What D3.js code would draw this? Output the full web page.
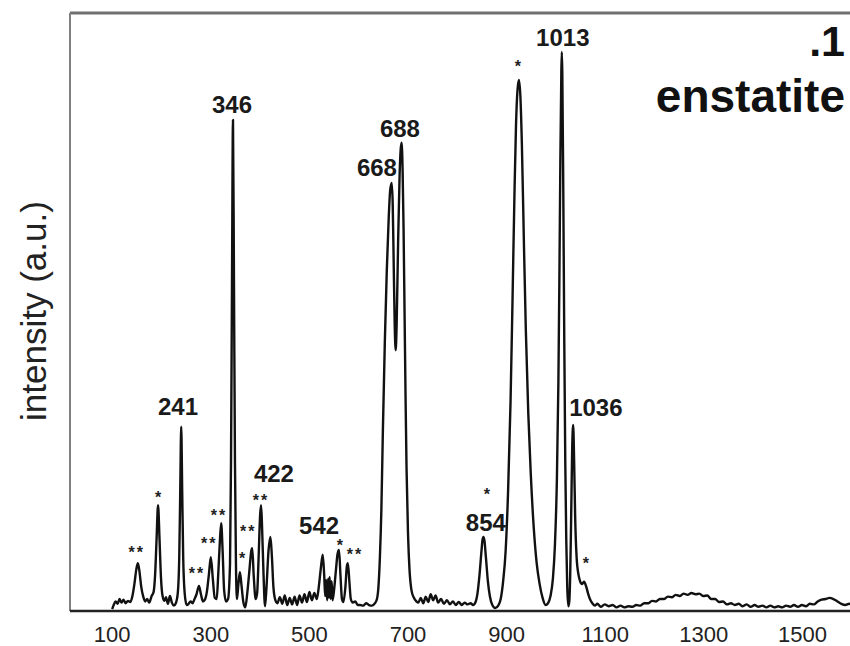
<!DOCTYPE html>
<html>
<head>
<meta charset="utf-8">
<script src="https://cdn.jsdelivr.net/npm/d3@7"></script>
<style>
  body { margin: 0; background: #ffffff; }
  svg text { font-family: "Liberation Sans", Arial, Helvetica, sans-serif; }
</style>
</head>
<body>
<svg id="chart" width="850" height="646"></svg>
<script>
// Raman spectrum of enstatite: [wavenumber (cm-1), intensity (a.u.)]
const spectrumLow = [
  [101, 0.3], [104, 1.0], [108, 1.6], [112, 1.2], [116, 2.0], [120, 1.4], [124, 1.9], [128, 1.3],
  [133, 1.7], [138, 1.5], [142, 2.5], [146, 4.5], [150, 7.0], [153, 8.0], [156, 6.8], [160, 4.0],
  [164, 2.4], [168, 1.6], [172, 2.0], [176, 1.4], [181, 2.5], [185, 3.2], [188, 6.0], [191, 12.0],
  [194, 17.7], [197, 12.0], [200, 5.5], [203, 2.6], [207, 1.7], [210, 2.3], [214, 1.2], [218, 2.5],
  [222, 1.4], [226, 0.9], [230, 1.3], [234, 3.0], [237, 9.0], [239, 20.0], [241, 30.8], [243, 20.0],
  [245, 9.0], [248, 3.0], [252, 1.0], [256, 1.2], [260, 1.6], [264, 1.3], [268, 2.0], [272, 2.8],
  [277, 4.2], [281, 2.8], [285, 1.6], [289, 1.9], [293, 3.2], [297, 6.0], [301, 9.0], [305, 5.5],
  [309, 2.2], [313, 2.0], [316, 6.0], [319, 11.0], [322, 14.7], [325, 10.0], [328, 3.5], [332, 1.6],
  [336, 2.0], [340, 8.0], [342, 25.0], [344, 55.0], [346, 82.1], [348, 55.0], [350, 25.0], [352, 8.0],
  [354, 2.0], [357, 4.5], [360, 6.5], [363, 4.5], [367, 1.5], [371, 0.6], [375, 3.0], [379, 6.5],
  [383, 10.0], [385, 10.5], [388, 6.0], [392, 2.0], [395, 3.0], [398, 9.0], [401, 16.0], [403, 17.7],
  [405, 14.0], [408, 6.0], [411, 0.8], [414, 4.0], [418, 10.0], [422, 12.4], [425, 9.0], [428, 4.0],
  [432, 1.8], [436, 1.3]
];

const spectrumMid = [
  [441, 2.3], [446, 1.2], [451, 2.6], [456, 1.0], [461, 2.2], [466, 1.1], [471, 2.4], [476, 1.0],
  [481, 2.6], [486, 1.4], [491, 2.8], [496, 1.5], [501, 3.2], [506, 1.8], [511, 3.0], [516, 2.0],
  [520, 4.0], [524, 7.0], [528, 9.4], [531, 6.0], [533, 2.5], [535, 5.2], [537, 1.8], [539, 5.4],
  [540.5, 2.2], [542, 5.7], [544, 2.0], [546, 5.0], [548, 1.8], [551, 3.5], [555, 7.0], [558, 9.5],
  [561, 10.2], [564, 6.0], [567, 2.0], [570, 1.5], [574, 4.0], [577, 7.5], [579, 8.0], [582, 5.0],
  [585, 2.0], [589, 1.4], [594, 1.6], [599, 1.0], [604, 1.0], [610, 0.9], [616, 1.3], [622, 1.0],
  [628, 0.9], [634, 1.3], [638, 2.0], [641, 4.0], [644, 9.0], [647, 17.0], [650, 30.0], [654, 45.0],
  [658, 57.0], [662, 66.0], [665, 70.5], [668, 71.6], [670, 68.0], [672, 58.0], [674, 48.0],
  [676, 43.6], [678, 48.0], [681, 62.0], [684, 73.0], [686, 77.0], [688, 78.3], [690, 74.0],
  [692, 64.0], [694, 50.0], [696, 36.0], [698, 24.0], [701, 13.0], [704, 7.0], [708, 3.5],
  [713, 2.2], [718, 1.6], [722, 1.4], [727, 2.2], [732, 1.3], [737, 2.4], [742, 1.5], [747, 2.8],
  [752, 1.8], [757, 2.6], [762, 1.4], [768, 2.0], [774, 1.2], [780, 1.8], [786, 1.1], [792, 1.6],
  [798, 1.0], [804, 1.5], [810, 1.0], [816, 1.4], [822, 1.1], [828, 1.3], [833, 1.0], [838, 1.5]
];

const spectrumHigh = [
  [842, 3.0], [846, 6.0], [850, 10.0], [852, 11.8], [854, 12.4], [856, 11.8], [859, 9.0], [863, 5.0],
  [867, 2.5], [872, 1.0], [878, 0.5], [884, 0.9], [889, 2.0], [894, 5.0], [899, 10.0], [904, 20.0],
  [909, 35.0], [913, 52.0], [917, 70.0], [920, 81.0], [923, 87.0], [926, 88.8], [929, 86.0],
  [932, 78.0], [936, 62.0], [940, 47.0], [945, 33.0], [950, 23.0], [956, 14.0], [962, 8.0],
  [968, 4.5], [974, 2.2], [980, 1.0], [985, 1.3], [990, 2.5], [995, 5.5], [999, 11.0], [1003, 22.0],
  [1006, 38.0], [1008, 55.0], [1010, 75.0], [1012, 90.0], [1013, 93.5], [1014, 90.0], [1016, 70.0],
  [1018, 45.0], [1020, 25.0], [1022, 12.0], [1024, 4.0], [1026, 0.8], [1028, 1.5], [1030, 6.0],
  [1032, 16.0], [1034, 27.0], [1036, 31.1], [1038, 25.0], [1040, 16.0], [1043, 9.0], [1047, 6.0],
  [1050, 5.0], [1054, 4.5], [1058, 4.9], [1062, 4.2], [1066, 3.0], [1070, 2.0], [1075, 1.3],
  [1080, 0.9], [1085, 1.2], [1092, 0.7], [1100, 1.1], [1108, 0.8], [1116, 1.0], [1124, 0.6],
  [1132, 0.9], [1140, 0.6], [1148, 0.8], [1156, 0.7], [1164, 1.0], [1172, 0.9], [1180, 1.3],
  [1188, 1.3], [1196, 1.7], [1204, 1.6], [1212, 2.0], [1220, 2.0], [1228, 2.4], [1236, 2.3],
  [1244, 2.7], [1252, 2.5], [1260, 2.9], [1268, 2.7], [1276, 3.0], [1284, 2.8], [1292, 2.9],
  [1300, 2.5], [1308, 2.6], [1316, 2.0], [1324, 2.0], [1332, 1.5], [1340, 1.6], [1348, 1.1],
  [1356, 1.3], [1364, 1.0], [1372, 1.2], [1380, 0.8], [1388, 1.1], [1396, 0.7], [1404, 1.0],
  [1412, 0.7], [1420, 0.9], [1428, 0.6], [1436, 0.9], [1444, 0.6], [1452, 0.8], [1460, 0.6],
  [1468, 0.9], [1476, 0.7], [1484, 1.0], [1492, 0.7], [1500, 1.0], [1508, 0.8], [1516, 1.2],
  [1524, 1.1], [1532, 1.6], [1540, 1.9], [1548, 2.0], [1556, 2.2], [1564, 2.0], [1572, 1.6],
  [1580, 1.2], [1588, 1.0], [1596, 1.2], [1602, 1.0]
];

// Band positions written above the main peaks: [text, wavenumber, intensity]
const peakLabels = [
  ["241", 234.5, 32.8], ["346", 344, 83.3], ["422", 429, 21.6], ["542", 520.6, 12.9],
  ["668", 638, 72.7], ["688", 684.6, 79.3], ["854", 859, 13.4], ["1013", 1015, 94.5],
  ["1036", 1082, 32.6]
];

// Asterisk marks for secondary bands: [text, wavenumber, intensity]
const starMarks = [
  ["**", 151, 10.5], ["*", 194, 19.7], ["**", 273, 6.9], ["**", 297.7, 11.9], ["**", 317.7, 16.7],
  ["*", 364.5, 9.4], ["**", 377, 14.0], ["**", 402.8, 19.2], ["*", 563, 11.7], ["**", 593.5, 10.2],
  ["*", 861, 20.2], ["*", 924, 91.8], ["*", 1062, 8.7]
];

const xTicks = [100, 300, 500, 700, 900, 1100, 1300, 1500];
const sampleTag = ".1";
const mineralName = "enstatite";
const yTitle = "intensity (a.u.)";

const svg = d3.select("#chart");
const plot = { left: 70, right: 852, top: 13, bottom: 611 };

const x = d3.scaleLinear().domain([15.4, 1601.6]).range([plot.left, plot.right]);
const y = d3.scaleLinear().domain([0, 100]).range([plot.bottom, plot.top]);

svg.append("defs").append("clipPath").attr("id", "plotClip")
  .append("rect")
  .attr("x", plot.left).attr("y", plot.top)
  .attr("width", plot.right - plot.left).attr("height", plot.bottom - plot.top);

// frame: grey top and left edges
svg.append("line")
  .attr("x1", plot.left).attr("x2", 850).attr("y1", plot.top).attr("y2", plot.top)
  .attr("stroke", "#707070").attr("stroke-width", 3);
svg.append("line")
  .attr("x1", plot.left).attr("x2", plot.left).attr("y1", plot.top).attr("y2", plot.bottom)
  .attr("stroke", "#808080").attr("stroke-width", 2);

// spectrum trace
const spectrum = spectrumLow.concat(spectrumMid, spectrumHigh);
const line = d3.line()
  .x(d => x(d[0]))
  .y(d => y(d[1]))
  .curve(d3.curveMonotoneX);

svg.append("path")
  .datum(spectrum)
  .attr("clip-path", "url(#plotClip)")
  .attr("fill", "none")
  .attr("stroke", "#111")
  .attr("stroke-width", 2.4)
  .attr("stroke-linejoin", "round")
  .attr("d", line);

// bottom axis
const xAxis = d3.axisBottom(x).tickValues(xTicks).tickSize(0).tickPadding(15)
  .tickFormat(d3.format("d"));
const gx = svg.append("g").attr("transform", `translate(0,${plot.bottom})`).call(xAxis);
gx.select(".domain").attr("stroke", "#222").attr("stroke-width", 2.5)
  .attr("d", `M${plot.left},0H850`);
gx.selectAll("text")
  .attr("font-family", "'Liberation Sans', Arial, sans-serif")
  .attr("font-size", 22)
  .attr("fill", "#222");

// y-axis title
svg.append("text")
  .attr("transform", "translate(46,311) rotate(-90)")
  .attr("text-anchor", "middle")
  .attr("font-size", 35)
  .attr("fill", "#222")
  .text(yTitle);

// peak labels
svg.append("g").selectAll("text")
  .data(peakLabels)
  .join("text")
  .attr("x", d => x(d[1]))
  .attr("y", d => y(d[2]))
  .attr("text-anchor", "middle")
  .attr("font-size", 24)
  .attr("font-weight", "bold")
  .attr("fill", "#1a1a1a")
  .text(d => d[0]);

// asterisk marks
svg.append("g").selectAll("text")
  .data(starMarks)
  .join("text")
  .attr("x", d => x(d[1]))
  .attr("y", d => y(d[2]))
  .attr("dy", "0.6em")
  .attr("text-anchor", "middle")
  .attr("font-size", 16)
  .attr("font-weight", "bold")
  .attr("letter-spacing", d => d[0].length > 1 ? "2px" : "0px")
  .attr("fill", "#222")
  .text(d => d[0]);

// sample tag and mineral name
svg.append("text")
  .attr("x", 845).attr("y", 56)
  .attr("text-anchor", "end")
  .attr("font-size", 43)
  .attr("font-weight", "bold")
  .attr("fill", "#111")
  .text(sampleTag);
svg.append("text")
  .attr("x", 845).attr("y", 112)
  .attr("text-anchor", "end")
  .attr("font-size", 46)
  .attr("font-weight", "bold")
  .attr("fill", "#111")
  .text(mineralName);
</script>
</body>
</html>
